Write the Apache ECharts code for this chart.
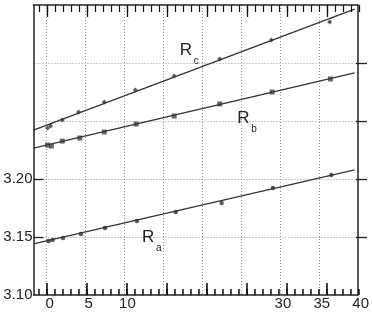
<!DOCTYPE html>
<html><head><meta charset="utf-8">
<script src="https://cdn.jsdelivr.net/npm/echarts@6/dist/echarts.min.js"></script>
<style>html,body{margin:0;padding:0;background:#fff}#c{width:372px;height:315px}</style>
</head><body><div id="c"></div>
<script>
// Rc points
const xRc = [0.1, 0.5, 2.0, 4.1, 7.4, 11.4, 16.4, 22.25, 28.9, 36.4];
const yRc = [3.2440, 3.2457, 3.2509, 3.2578, 3.2664, 3.2767, 3.2888, 3.3034, 3.3198, 3.3353];
// Rb points
const xRb = [0.1, 0.6, 2.0, 4.25, 7.4, 11.5, 16.4, 22.25, 29.0, 36.5];
const yRb = [3.2293, 3.2284, 3.2327, 3.2353, 3.2405, 3.2474, 3.2543, 3.2647, 3.2750, 3.2862];
// Ra points
const xRa = [0.25, 0.75, 2.1, 4.4, 7.5, 11.6, 16.6, 22.5, 29.1, 36.6];
const yRa = [3.1466, 3.1474, 3.1491, 3.1526, 3.1578, 3.1638, 3.1716, 3.1793, 3.1922, 3.2034];
// fitted lines (endpoints at the plot edges)
const fitX = [-1.7, 39.6];
const fitRc = [3.2422, 3.3465];
const fitRb = [3.2267, 3.2914];
const fitRa = [3.1440, 3.2078];
// axes
const xMin = -1.7, xMax = 40;
const yMin = 3.10, yMax = 3.35;
const xGridLines = [0, 5, 10, 15, 20, 25, 30, 35];
const xTickLabels = [0, 5, 10, 30, 35, 40];
const yTickLabels = [3.10, 3.15, 3.20];
const yGridLines = [3.15, 3.20, 3.25, 3.30];
// tick ranges (min, max, step)
const xMinorRange = [-1, 39, 1];
const xMajorRange = [0, 35, 5];
const yLeftRange = [3.15, 3.20, 0.05];
const yRightRange = [3.15, 3.30, 0.05];
// curve labels: subscript, anchor (x, y baseline)
const curveSubs = ['c', 'b', 'a'];
const curveLabX = [17.1, 24.5, 12.25];
const curveLabY = [3.3035, 3.2449, 3.1423];

const FONT = "'Liberation Sans', Arial, sans-serif";
const INK = '#222';
const zip = (a, b) => a.map((v, i) => [v, b[i]]);

const W = 372, H = 315;
const G = {left: 33.5, right: 5, top: 5, bottom: 20};
const plotW = W - G.left - G.right, plotH = H - G.top - G.bottom;
const pxX = v => G.left + (v - xMin) / (xMax - xMin) * plotW;
const pxY = v => G.top + (yMax - v) / (yMax - yMin) * plotH;

const hidden = {show: false};
const grids = [Object.assign({}, G)];
const xAxes = [
  {gridIndex: 0, type: 'value', position: 'bottom', min: xMin, max: xMax,
    axisLine: {show: true, onZero: false, lineStyle: {color: INK, width: 1.5}},
    axisTick: {show: true, inside: true, length: 0, customValues: xGridLines},
    axisLabel: {show: true, customValues: xTickLabels, margin: 1, color: INK, fontFamily: FONT, fontSize: 15, padding: [0, 0, 0, 6]},
    splitLine: {show: true, lineStyle: {color: '#999', type: [1, 2], width: 1}}},
  {gridIndex: 0, type: 'value', position: 'top', min: xMin, max: xMax,
    axisLine: {show: true, onZero: false, lineStyle: {color: INK, width: 1.5}},
    axisTick: hidden, axisLabel: hidden, splitLine: hidden}
];
const yAxes = [
  {gridIndex: 0, type: 'value', position: 'left', min: yMin, max: yMax,
    axisLine: {show: true, onZero: false, lineStyle: {color: INK, width: 1.5}},
    axisTick: {show: true, length: 0, customValues: yGridLines},
    axisLabel: {show: true, customValues: yTickLabels, margin: 1, color: INK, fontFamily: FONT, fontSize: 15,
      formatter: v => v.toFixed(2)},
    splitLine: {show: true, lineStyle: {color: '#999', type: [1, 2], width: 1}}},
  {gridIndex: 0, type: 'value', position: 'right', min: yMin, max: yMax,
    axisLine: {show: true, onZero: false, lineStyle: {color: INK, width: 1.5}},
    axisTick: hidden, axisLabel: hidden, splitLine: hidden}
];

// each tick set lives on its own sub-grid, aligned on the main scale
function addXTicks(r, edge, length, width) {
  const gi = grids.length;
  grids.push({left: pxX(r[0]), right: W - pxX(r[1]), top: G.top, bottom: G.bottom});
  xAxes.push({gridIndex: gi, type: 'value', position: edge, min: r[0], max: r[1], interval: r[2], z: 50,
    axisLine: {show: false, onZero: false}, axisLabel: hidden, splitLine: hidden,
    axisTick: {show: true, inside: true, length: length, lineStyle: {color: '#111', width: width}}});
  yAxes.push({gridIndex: gi, type: 'value', show: false, min: 0, max: 1});
}
function addYTicks(r, position, length, width) {
  const gi = grids.length;
  grids.push({left: G.left, right: G.right, top: pxY(r[1]), bottom: H - pxY(r[0])});
  yAxes.push({gridIndex: gi, type: 'value', position: position, min: r[0], max: r[1], interval: r[2], z: 50,
    axisLine: {show: false, onZero: false}, axisLabel: hidden, splitLine: hidden,
    axisTick: {show: true, inside: true, length: length, lineStyle: {color: INK, width: width}}});
  xAxes.push({gridIndex: gi, type: 'value', show: false, min: 0, max: 1});
}
addXTicks(xMinorRange, 'top', 7, 1.2);
addXTicks(xMajorRange, 'top', 12, 1.3);
addXTicks(xMinorRange, 'bottom', 6, 1.5);
addXTicks(xMajorRange, 'bottom', 12, 1.6);
addYTicks(yLeftRange, 'left', 10, 1.3);
addYTicks(yRightRange, 'right', 11, 1.3);

const chart = echarts.init(document.getElementById('c'), null, {renderer: 'canvas'});
const option = {
  backgroundColor: '#fff',
  animation: false,
  grid: grids,
  xAxis: xAxes,
  yAxis: yAxes,
  series: [
    {type: 'line', data: zip(fitX, fitRc), showSymbol: false, lineStyle: {color: '#333', width: 1.3}, silent: true},
    {type: 'line', data: zip(fitX, fitRb), showSymbol: false, lineStyle: {color: '#333', width: 1.3}, silent: true},
    {type: 'line', data: zip(fitX, fitRa), showSymbol: false, lineStyle: {color: '#333', width: 1.3}, silent: true},
    {type: 'scatter', name: 'Rc', data: zip(xRc, yRc), symbol: 'diamond', symbolSize: 5, itemStyle: {color: '#333'}},
    {type: 'scatter', name: 'Rb', data: zip(xRb, yRb), symbol: 'rect', symbolSize: 5, itemStyle: {color: '#444'}},
    {type: 'scatter', name: 'Ra', data: zip(xRa, yRa), symbol: 'circle', symbolSize: 4.5, itemStyle: {color: '#333'}}
  ]
};
chart.setOption(option);

const graphics = [];
curveSubs.forEach((s, i) => {
  const p = chart.convertToPixel({xAxisIndex: 0, yAxisIndex: 0}, [curveLabX[i], curveLabY[i]]);
  graphics.push({type: 'text', x: p[0], y: p[1], style: {text: 'R', fontFamily: FONT, fontSize: 17, fill: INK, align: 'left', verticalAlign: 'bottom'}});
  graphics.push({type: 'text', x: p[0] + 14, y: p[1] + 7, style: {text: s, fontFamily: FONT, fontSize: 10, fill: INK, align: 'left', verticalAlign: 'bottom'}});
});
chart.setOption({graphic: graphics});
</script>
</body></html>
